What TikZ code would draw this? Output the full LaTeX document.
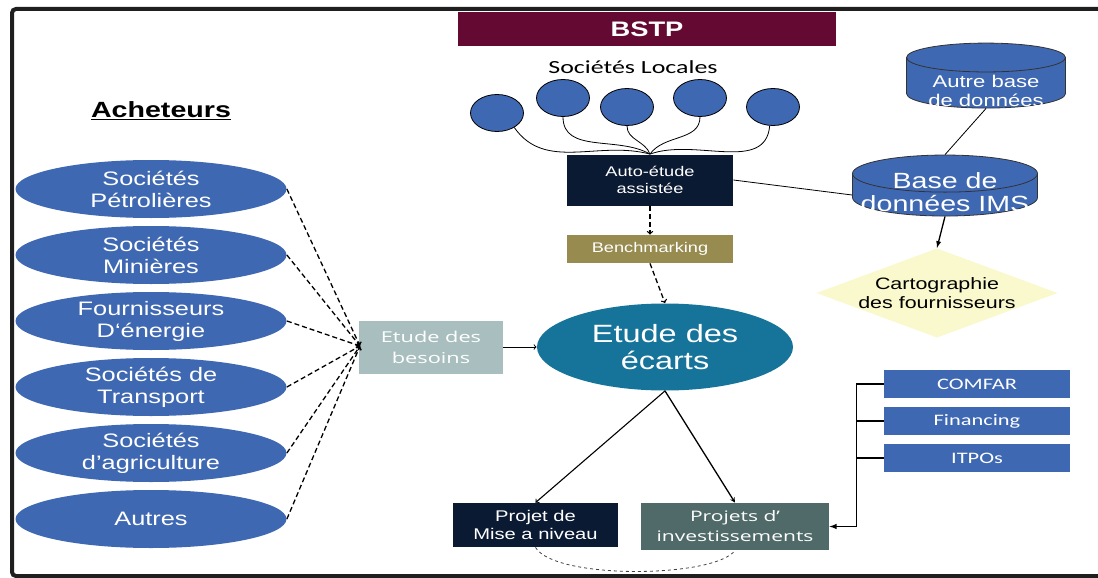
\documentclass[tikz,border=0pt]{standalone}
\usepackage{fontspec}
\setmainfont{Liberation Sans}[FakeStretch=1.3]
\newfontfamily\calfont{Carlito}[FakeStretch=1.4]
\newfontfamily\widefont{Open Sans}[FakeStretch=1.45]
\usepackage{tikz}
\usetikzlibrary{shapes.geometric,arrows,calc,positioning}
\definecolor{bstpred}{HTML}{640A32}
\definecolor{socblue}{HTML}{3F68B2}
\definecolor{navybox}{HTML}{0B1A33}
\definecolor{olivebox}{HTML}{978B50}
\definecolor{ecartblue}{HTML}{16739A}
\definecolor{besoingrey}{HTML}{A9BFBF}
\definecolor{investgrey}{HTML}{506A6A}
\definecolor{cartoyellow}{HTML}{FAF8CD}
\newcommand{\flatlines}[2]{\smash{\raisebox{#1}{\begin{tabular}{@{}c@{}}#2\end{tabular}}}}

\begin{document}
\begin{tikzpicture}[x=1pt, y=-1pt, line width=0.8pt]
   \useasboundingbox (0,0) rectangle (1098,578);
   \draw[line width=4pt, rounded corners=4pt, black!88] (1098,9) -- (12,9) -- (12,576) -- (1098,576);
   % titres
   \node[fill=bstpred, minimum width=378pt, minimum height=34pt, text=white, font=\bfseries\fontsize{21}{24}\selectfont] (bstp) at (647,29) {BSTP};
   \node[font=\calfont\fontsize{18.5}{20}\selectfont] (locales) at (633,67) {Sociétés Locales};
   \node[font=\bfseries\fontsize{22}{24}\selectfont] (acheteurs) at (161,111) {\underline{Acheteurs}};
   % acheteurs
   \begin{scope}[every node/.style={ellipse, fill=socblue, minimum width=271pt, minimum height=58pt, inner sep=0pt, text=white, align=center, font=\fontsize{19.5}{22}\selectfont}]
    \node (petro) at (151,189) {Sociétés\\Pétrolières};
    \node (mines) at (151,255) {Sociétés\\Minières};
    \node (energie) at (151,321) {Fournisseurs\\D‘énergie};
    \node (transport) at (151,387) {Sociétés de\\Transport};
    \node (agri) at (151,453) {Sociétés\\d’agriculture};
    \node (autres) at (151,519) {Autres};
   \end{scope}
   % societes locales
   \begin{scope}[every node/.style={ellipse, draw=black, fill=socblue, minimum width=53pt, minimum height=37pt, inner sep=0pt}]
    \node (loc1) at (497,113) {};
    \node (loc2) at (563,98) {};
    \node (loc3) at (627,107) {};
    \node (loc4) at (700,98) {};
    \node (loc5) at (773,107) {};
   \end{scope}
   \begin{scope}[every node/.style={text=white, align=center, inner sep=0pt}]
    \node[fill=navybox, minimum width=166pt, minimum height=51pt, font=\fontsize{14}{17}\selectfont] (auto) at (650,180) {Auto-étude\\assistée};
    \node[fill=olivebox, minimum width=166pt, minimum height=28pt, font=\fontsize{14}{17}\selectfont] (bench) at (650,249) {Benchmarking};
    \node[fill=besoingrey, minimum width=144pt, minimum height=53pt, font=\widefont\fontsize{15}{21}\selectfont] (besoins) at (431,347) {Etude des\\besoins};
    \node[ellipse, fill=ecartblue, minimum width=256pt, minimum height=87pt, font=\fontsize{25}{27}\selectfont] (ecarts) at (665,347) {Etude des\\écarts};
    \node[fill=navybox, minimum width=165pt, minimum height=44pt, font=\fontsize{15.5}{18}\selectfont] (mise) at (535.5,525) {Projet de\\Mise a niveau};
    \node[fill=investgrey, minimum width=188pt, minimum height=47pt, font=\widefont\fontsize{14.5}{20}\selectfont] (invest) at (735,526.5) {Projets d’\\investissements};
    \node[fill=socblue, minimum width=186pt, minimum height=28pt, font=\calfont\fontsize{16}{17}\selectfont] (comfar) at (977,384) {COMFAR};
    \node[fill=socblue, minimum width=186pt, minimum height=28pt, font=\calfont\fontsize{16}{17}\selectfont] (financing) at (977,421) {Financing};
    \node[fill=socblue, minimum width=186pt, minimum height=28pt, font=\calfont\fontsize{16}{17}\selectfont] (itpos) at (977,458) {ITPOs};
    \node[cylinder, shape border rotate=90, aspect=0.22, draw=black!80, fill=socblue, minimum width=185pt, minimum height=61pt,
          font=\fontsize{22}{23}\selectfont] (ims) at (945,195) {\flatlines{-6pt}{Base de\\données IMS}};
    \node[cylinder, shape border rotate=90, aspect=0.25, draw=black!80, fill=socblue, minimum width=159pt, minimum height=65pt,
          font=\fontsize{17}{19}\selectfont] (autre) at (986,83) {\flatlines{-15pt}{Autre base\\de données}};
   \end{scope}
   \node[diamond, fill=cartoyellow, minimum width=230pt, minimum height=86pt, aspect=2.7, inner sep=0pt, align=center, font=\fontsize{16.5}{19}\selectfont] (carto) at (937,293) {Cartographie\\des fournisseurs};
   % liens
   \draw (loc1.-40) to[out=-55,in=165] (auto.north);
   \draw (loc2.south) to[out=-90,in=150] (auto.north);
   \draw (loc3.south) to[out=-90,in=110] (auto.north);
   \draw (loc4.south) to[out=-90,in=55] (auto.north);
   \draw (loc5.-100) to[out=-95,in=20] (auto.north);
   \draw (auto.east) -- (ims.west);
   \draw (autre.south) -- (ims.north);
   \draw[-latex, line width=1.3pt] (ims.south) -- (carto.north);
   \begin{scope}[->, dash pattern=on 5pt off 3pt, line width=1.3pt]
    \coordinate (hub) at (360,346);
    \foreach \src in {petro,mines,energie,transport,agri,autres}
      \draw (\src.east) -- (hub);
    \draw (auto.south) -- (bench.north);
    \draw (bench.south) -- (ecarts.north);
   \end{scope}
   \draw[->, line width=1pt] (besoins.east) -- (ecarts.west);
   \draw[->, line width=1.1pt] (ecarts.south) -- (mise.north);
   \draw[-stealth, line width=1.3pt] (ecarts.south) -- (invest.north);
   \draw[dashed, black!75] (mise.south) .. controls (555,580) and (715,578) .. (invest.south);
   \draw[-latex, line width=1.5pt] (comfar.west) -- ++(-27,0) |- (invest.east);
   \draw[line width=1.5pt] (financing.west) -- ++(-27,0);
   \draw[line width=1.5pt] (itpos.west) -- ++(-27,0);
\end{tikzpicture}
\end{document}
